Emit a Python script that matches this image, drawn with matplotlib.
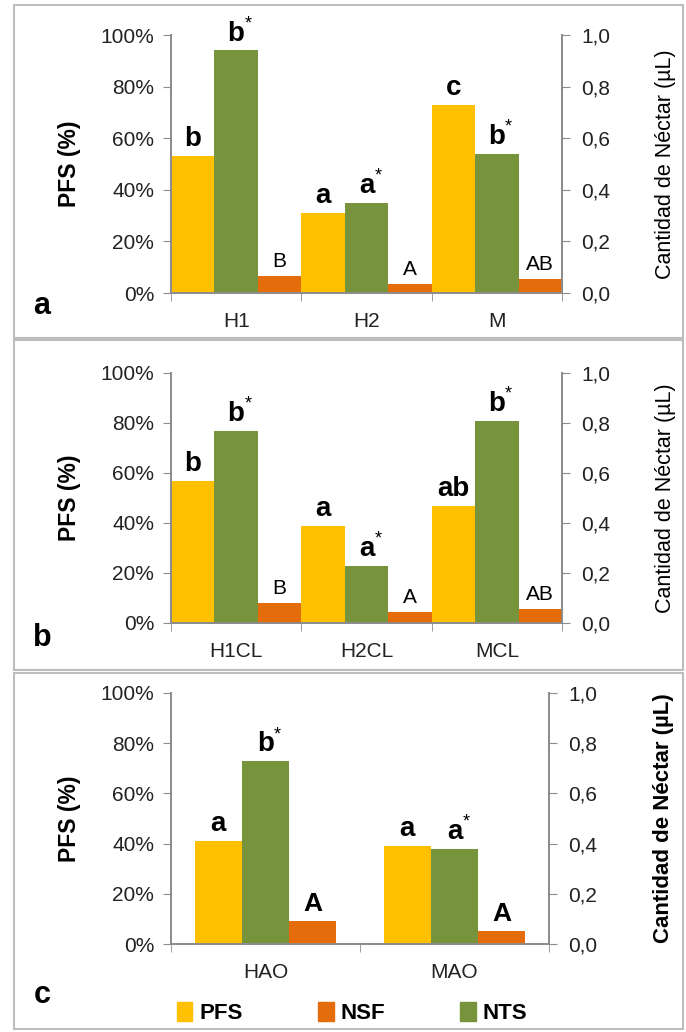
import matplotlib.pyplot as plt
from matplotlib.patches import Patch, Rectangle
import numpy as np

plt.rcParams['font.family'] = ['Liberation Sans', 'DejaVu Sans']

# panel a
cats_a = ["H1", "H2", "M"]
pfs_a = [0.53, 0.31, 0.73]
nts_a = [0.94, 0.35, 0.54]
nsf_a = [0.065, 0.035, 0.055]
lab_pfs_a = ["b", "a", "c"]
lab_nts_a = ["b", "a", "b"]
lab_nsf_a = ["B", "A", "AB"]

# panel b
cats_b = ["H1CL", "H2CL", "MCL"]
pfs_b = [0.57, 0.39, 0.47]
nts_b = [0.77, 0.23, 0.81]
nsf_b = [0.08, 0.045, 0.055]
lab_pfs_b = ["b", "a", "ab"]
lab_nts_b = ["b", "a", "b"]
lab_nsf_b = ["B", "A", "AB"]

# panel c
cats_c = ["HAO", "MAO"]
pfs_c = [0.41, 0.39]
nts_c = [0.73, 0.38]
nsf_c = [0.09, 0.05]
lab_pfs_c = ["a", "a"]
lab_nts_c = ["b", "a"]
lab_nsf_c = ["A", "A"]

yticks = [0, 0.2, 0.4, 0.6, 0.8, 1.0]

YEL = "#FFC000"
GRN = "#77933C"
ORA = "#E46C0A"
GRAY = "#8C8C8C"

W, H = 686, 1032
fig = plt.figure(figsize=(W / 100, H / 100), dpi=100)


def fr(x0, y0, x1, y1):
    # pixel box -> figure fraction
    return [x0 / W, 1 - y1 / H, (x1 - x0) / W, (y1 - y0) / H]


def panel(box, cats, pfs, nts, nsf, lp, ln, lnsf, letter, bw, nsf_bold, ylab_bold, rpad):
    ax = fig.add_axes(fr(*box))
    ax2 = ax.twinx()
    x = np.arange(len(cats))
    ax.bar(x - bw, pfs, bw, color=YEL, zorder=2)
    ax.bar(x, nts, bw, color=GRN, zorder=2)
    ax2.bar(x + bw, nsf, bw, color=ORA, zorder=2)
    ax.set_xlim(-0.5, len(cats) - 0.5)
    ax.set_ylim(0, 1)
    ax2.set_ylim(0, 1)
    ax.set_yticks(yticks)
    ax.set_yticklabels([f"{int(v * 100)}%" for v in yticks])
    ax2.set_yticks(yticks)
    ax2.set_yticklabels([f"{v:.1f}".replace(".", ",") for v in yticks])
    ax.set_xticks(x)
    ax.set_xticklabels(cats)
    ax.set_xticks(np.arange(len(cats) + 1) - 0.5, minor=True)
    ax.tick_params(axis='x', which='major', length=0, labelsize=15, pad=14, labelcolor="#222222")
    ax.tick_params(axis='x', which='minor', length=6, color=GRAY, direction='out')
    ax.tick_params(axis='y', length=6, color=GRAY, labelsize=15, labelcolor="#222222", pad=6)
    ax2.tick_params(axis='y', length=6, color=GRAY, labelsize=15, labelcolor="#222222", pad=8)
    for a in (ax, ax2):
        a.spines['top'].set_visible(False)
        for s in ('left', 'right', 'bottom'):
            a.spines[s].set_color(GRAY)
            a.spines[s].set_linewidth(1.3)
    ax.set_ylabel("PFS (%)", fontsize=16.5, fontweight='bold', labelpad=14)
    ax2.set_ylabel("Cantidad de Néctar (µL)", fontsize=16 if ylab_bold else 15.5,
                   fontweight='bold' if ylab_bold else 'normal', labelpad=rpad)
    for i in x:
        ax.text(i - bw, pfs[i] + 0.015, lp[i], ha='center', va='bottom',
                fontsize=20, fontweight='bold')
        ax.text(i, nts[i] + 0.015, ln[i], ha='center', va='bottom',
                fontsize=20, fontweight='bold')
        ax.annotate("*", (i, nts[i] + 0.015), xytext=(6, 10), textcoords='offset points',
                    ha='left', va='bottom', fontsize=13)
        ax2.text(i + bw, nsf[i] + 0.02, lnsf[i], ha='center', va='bottom',
                 fontsize=19 if nsf_bold else 15,
                 fontweight='bold' if nsf_bold else 'normal')
    fig.text(42 / W, letter[1], letter[0], fontsize=22, fontweight='bold',
             ha='center', va='center')
    return ax


panel((171, 35, 562, 293), cats_a, pfs_a, nts_a, nsf_a, lab_pfs_a, lab_nts_a, lab_nsf_a,
      ("a", 1 - 306 / H), 1 / 3, False, False, 32)
panel((171, 373, 562, 623), cats_b, pfs_b, nts_b, nsf_b, lab_pfs_b, lab_nts_b, lab_nsf_b,
      ("b", 1 - 638 / H), 1 / 3, False, False, 32)
panel((171, 693, 549, 944), cats_c, pfs_c, nts_c, nsf_c, lab_pfs_c, lab_nts_c, lab_nsf_c,
      ("c", 1 - 995 / H), 0.25, True, True, 40)

# panel frames
for (y0, y1) in [(5, 338), (340, 670), (673, 1029)]:
    fig.add_artist(Rectangle((14 / W, 1 - y1 / H), (683 - 14) / W, (y1 - y0) / H,
                             transform=fig.transFigure, fill=False,
                             edgecolor="#BDBDBD", linewidth=1.5))

handles = [Patch(color=YEL, label="PFS"), Patch(color=ORA, label="NSF"),
           Patch(color=GRN, label="NTS")]
fig.legend(handles=handles, loc='center', bbox_to_anchor=(352 / W, 1 - 1013 / H), ncol=3,
           frameon=False, prop={'weight': 'bold', 'size': 16}, handlelength=0.7,
           handleheight=0.9, handletextpad=0.3, columnspacing=3.4)

fig.savefig("out.png", dpi=100)
